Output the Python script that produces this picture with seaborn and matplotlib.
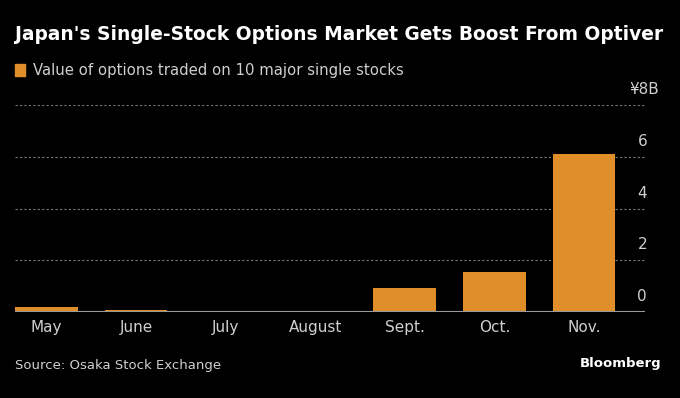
import matplotlib
matplotlib.use("Agg")
import matplotlib.pyplot as plt
import seaborn as sns
import pandas as pd

months = ["May", "June", "July", "August", "Sept.", "Oct.", "Nov."]
values = [0.20, 0.08, 0.03, 0.02, 0.93, 1.55, 6.10]
y_ticks = [0, 2, 4, 6, 8]
y_labels = ["0", "2", "4", "6", "¥8B"]

BG = "#000000"
BAR = "#E08E29"
GREY = "#cfcfcf"

sns.set_theme(style="dark")
plt.rcParams["font.family"] = ["DejaVu Sans"]

df = pd.DataFrame({"month": months, "value": values})

fig = plt.figure(figsize=(6.8, 3.98), dpi=100, facecolor=BG)
ax = fig.add_axes([15 / 680, 1 - 312 / 398, 630 / 680, 207 / 398])
ax.set_facecolor(BG)

sns.barplot(data=df, x="month", y="value", color=BAR, saturation=1, width=0.7,
            edgecolor="none", linewidth=0, ax=ax)

ax.set_xlim(-0.35, 6.68)
ax.set_ylim(0, 8)
for t in y_ticks[1:]:
    ax.axhline(t, color="#7a7a7a", linestyle=(0, (2, 2)), linewidth=0.8, zorder=0)
ax.axhline(0, color="#9a9a9a", linewidth=1.5, zorder=3)

# value labels sit above their gridline, at the right end
for t, lab in zip(y_ticks, y_labels):
    ax.text(6.65 if lab != "¥8B" else 6.67, t + 0.3, lab, color=GREY, fontsize=11,
            ha="center", va="bottom")

ax.set_yticks([])
ax.set_xlabel("")
ax.set_ylabel("")
ax.tick_params(axis="x", colors=GREY, labelsize=11, length=0, pad=6)
for s in ax.spines.values():
    s.set_visible(False)


def fit_text(x, y, s, width, size, **kw):
    # shrink the font until the text spans about `width` pixels
    t = fig.text(x / 680, 1 - y / 398, s, fontsize=size, va="center", ha="left", **kw)
    r = fig.canvas.get_renderer()
    w = t.get_window_extent(r).width
    if w > width:
        t.set_fontsize(size * width / w)
    return t


fit_text(15, 35, "Japan's Single-Stock Options Market Gets Boost From Optiver", 648, 16,
         color="white", fontweight="bold")
fig.patches.append(plt.Rectangle((15 / 680, 1 - 76 / 398), 10 / 680, 12 / 398,
                                 transform=fig.transFigure, color=BAR, figure=fig))
fit_text(33, 70, "Value of options traded on 10 major single stocks", 367, 12, color=GREY)
fit_text(15, 366, "Source: Osaka Stock Exchange", 207, 11.5, color=GREY)
fit_text(580, 364, "Bloomberg", 81, 12, color="white", fontweight="bold")

fig.savefig("out.png", dpi=100, facecolor=BG)
